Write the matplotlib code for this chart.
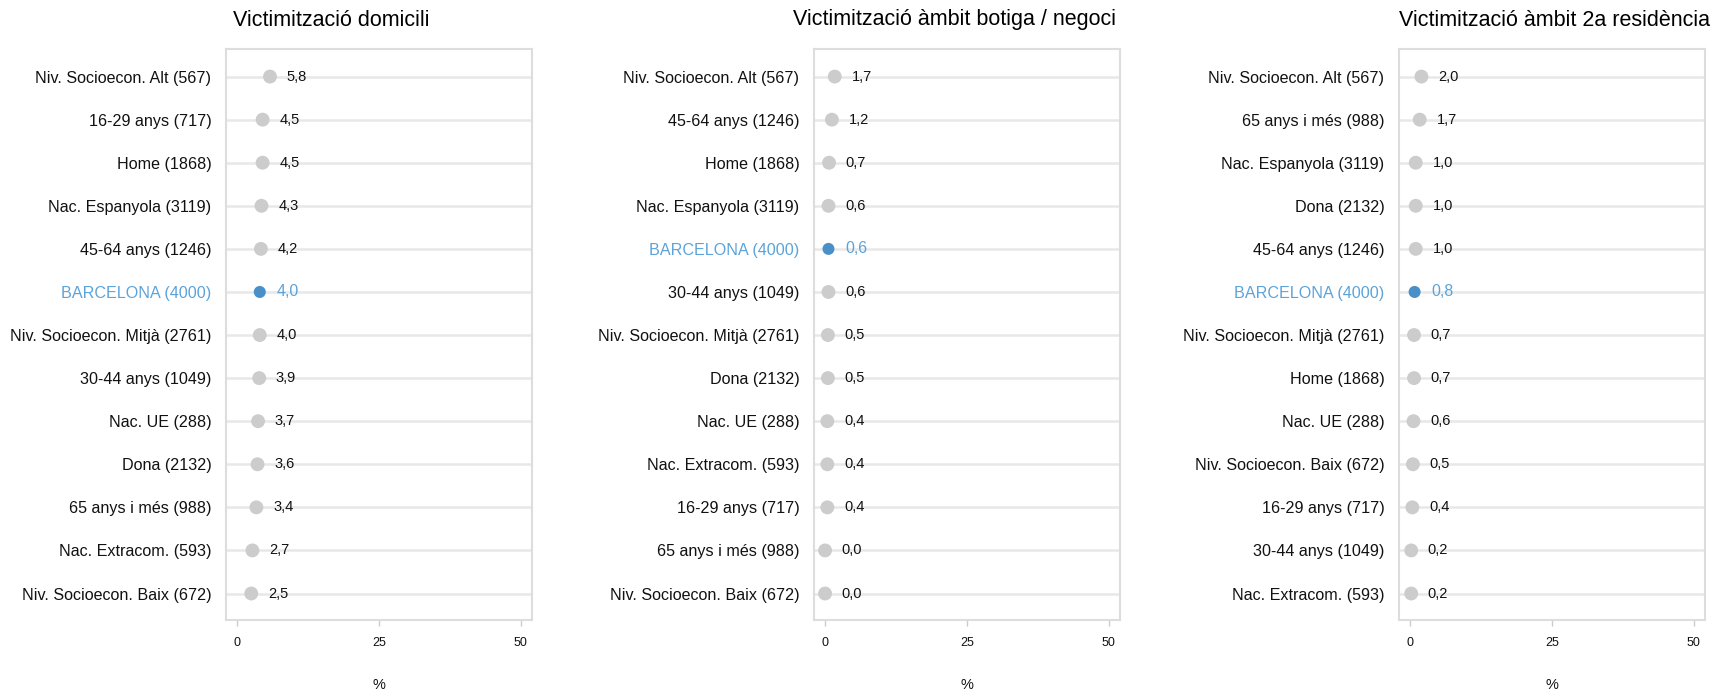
import matplotlib
matplotlib.use("Agg")
import matplotlib.pyplot as plt

plt.rcParams['font.family'] = ['Liberation Sans', 'DejaVu Sans']

# panel 1: Victimització domicili
labels_dom = ['Niv. Socioecon. Alt (567)', '16-29 anys (717)', 'Home (1868)',
              'Nac. Espanyola (3119)', '45-64 anys (1246)', 'BARCELONA (4000)',
              'Niv. Socioecon. Mitjà (2761)', '30-44 anys (1049)', 'Nac. UE (288)',
              'Dona (2132)', '65 anys i més (988)', 'Nac. Extracom. (593)',
              'Niv. Socioecon. Baix (672)']
values_dom = [5.8, 4.5, 4.5, 4.3, 4.2, 4.0, 4.0, 3.9, 3.7, 3.6, 3.4, 2.7, 2.5]

# panel 2: Victimització àmbit botiga / negoci
labels_neg = ['Niv. Socioecon. Alt (567)', '45-64 anys (1246)', 'Home (1868)',
              'Nac. Espanyola (3119)', 'BARCELONA (4000)', '30-44 anys (1049)',
              'Niv. Socioecon. Mitjà (2761)', 'Dona (2132)', 'Nac. UE (288)',
              'Nac. Extracom. (593)', '16-29 anys (717)', '65 anys i més (988)',
              'Niv. Socioecon. Baix (672)']
values_neg = [1.7, 1.2, 0.7, 0.6, 0.6, 0.6, 0.5, 0.5, 0.4, 0.4, 0.4, 0.0, 0.0]

# panel 3: Victimització àmbit 2a residència
labels_res = ['Niv. Socioecon. Alt (567)', '65 anys i més (988)', 'Nac. Espanyola (3119)',
              'Dona (2132)', '45-64 anys (1246)', 'BARCELONA (4000)',
              'Niv. Socioecon. Mitjà (2761)', 'Home (1868)', 'Nac. UE (288)',
              'Niv. Socioecon. Baix (672)', '16-29 anys (717)', '30-44 anys (1049)',
              'Nac. Extracom. (593)']
values_res = [2.0, 1.7, 1.0, 1.0, 1.0, 0.8, 0.7, 0.7, 0.6, 0.5, 0.4, 0.2, 0.2]

titles = ['Victimització domicili', 'Victimització àmbit botiga / negoci',
          'Victimització àmbit 2a residència']
x_ticks = [0, 25, 50]

W, H = 1714, 693
fig = plt.figure(figsize=(W / 100, H / 100), dpi=100)

grey = '#cccccc'
blue = '#4a90c8'
blue_txt = '#5ba3d9'

panels = [(labels_dom, values_dom), (labels_neg, values_neg), (labels_res, values_res)]
lefts = [226, 814, 1399]
title_x = [233, 793, 1399]

for i, (labels, values) in enumerate(panels):
    ax = fig.add_axes([lefts[i] / W, 1 - 620 / H, 306 / W, 571 / H])
    ys = list(range(len(labels)))
    for y in ys:
        ax.axhline(y, color='#e8e8e8', lw=1.8, zorder=1)
    cols = [blue if lab.startswith('BARCELONA') else grey for lab in labels]
    sizes = [75 if lab.startswith('BARCELONA') else 100 for lab in labels]
    ax.scatter(values, ys, c=cols, s=sizes, zorder=3, linewidths=0)
    for v, y, lab in zip(values, ys, labels):
        c = blue_txt if lab.startswith('BARCELONA') else '#111111'
        fs = 11.5 if lab.startswith('BARCELONA') else 10.5
        ax.annotate(f'{v:.1f}'.replace('.', ','), (v, y), xytext=(12, 0),
                    textcoords='offset points', va='center', ha='left',
                    fontsize=fs, color=c, zorder=4)
    ax.set_xlim(-1.95, 51.95)
    ax.set_ylim(12.615, -0.64)
    ax.set_yticks(ys)
    ax.set_yticklabels(labels, fontsize=11.6)
    for t, lab in zip(ax.get_yticklabels(), labels):
        if lab.startswith('BARCELONA'):
            t.set_color(blue_txt)
        else:
            t.set_color('#111111')
    ax.tick_params(axis='y', length=0, pad=10.5)
    ax.set_xticks(x_ticks)
    ax.tick_params(axis='x', length=4, color='#cccccc', width=1, pad=8.5,
                   labelsize=9, labelcolor='#111111')
    for s in ax.spines.values():
        s.set_color('#dddddd')
        s.set_linewidth(1.5)
    fig.text((lefts[i] + 153) / W, 1 - 685 / H, '%', ha='center', va='center',
             fontsize=10.5, color='#111111')
    fig.text(title_x[i] / W, 1 - 20 / H, titles[i], ha='left', va='center',
             fontsize=15.5, color='#000000')

fig.savefig('out.png', dpi=100)
